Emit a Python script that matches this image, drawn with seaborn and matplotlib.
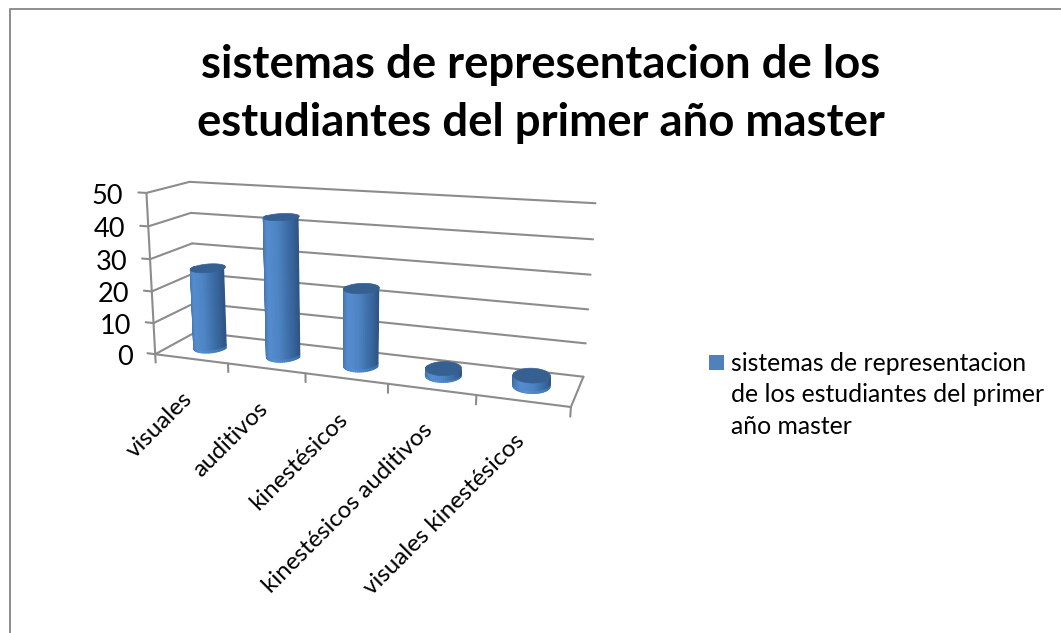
import numpy as np
import pandas as pd
import seaborn as sns
import matplotlib.pyplot as plt
from matplotlib.collections import PolyCollection
from matplotlib.patches import Rectangle

titulo = 'sistemas de representacion de los\nestudiantes del primer año master'
leyenda = 'sistemas de representacion\nde los estudiantes del primer\naño master'
categorias = ['visuales', 'auditivos', 'kinestésicos', 'kinestésicos auditivos', 'visuales kinestésicos']
valores = [25.5, 43, 23.5, 2, 3]
marcas_y = [0, 10, 20, 30, 40, 50]

sns.set_theme(style='white')
plt.rcParams['font.family'] = ['Lato', 'DejaVu Sans']

# camara: (categoria, fondo, valor) -> pixel, calibrada con las esquinas del grafico 3D
mundo = np.array([[0, 0, 0], [0, 0, 50], [0, 1, 0], [0, 1, 50], [5, 1, 0], [5, 1, 50], [5, 0, 0],
                  [1, 0, 0], [2, 0, 0], [3, 0, 0], [4, 0, 0],
                  [0, 0, 10], [0, 0, 20], [0, 0, 30], [0, 0, 40],
                  [0, 1, 10], [0, 1, 20], [0, 1, 30], [0, 1, 40],
                  [5, 1, 10], [5, 1, 20], [5, 1, 30], [5, 1, 40]], dtype=float)
pixel = np.array([[156, 353], [145, 193], [195, 333], [191, 182], [583, 377], [595, 203], [571, 407],
                  [229, 363], [306, 373], [388, 384], [476, 396],
                  [153, 323], [152, 292], [150, 259], [148, 227],
                  [194, 303], [193, 273], [193, 243], [191, 213],
                  [586, 343], [588, 309], [591, 275], [593, 239]], dtype=float)
filas = []
for (a, b, c), (u, v) in zip(mundo, pixel):
    filas.append([a, b, c, 1, 0, 0, 0, 0, -u * a, -u * b, -u * c, -u])
    filas.append([0, 0, 0, 0, a, b, c, 1, -v * a, -v * b, -v * c, -v])
P = np.linalg.svd(np.array(filas))[2][-1].reshape(3, 4)


def proyectar(x, y, z):
    h = P @ np.vstack([x, y, z, np.ones_like(np.asarray(x, dtype=float))])
    return h[0] / h[2], h[1] / h[2]


def uno(x, y, z):
    a, b = proyectar(np.array([x], dtype=float), np.array([y], dtype=float), np.array([z], dtype=float))
    return a[0], b[0]


fig, ax = plt.subplots(figsize=(10.61, 6.33), dpi=100)
ax.set_position([0, 0, 1, 1])

# lineas de rejilla, piso y marcas
lineas = []


def agrega(id_linea, p0, p1):
    a = uno(*p0)
    b = uno(*p1)
    lineas.append({'id': id_linea, 'px': a[0], 'py': a[1]})
    lineas.append({'id': id_linea, 'px': b[0], 'py': b[1]})


n = 0
for z in marcas_y:
    agrega(n, (-0.11, 0, z), (0, 0, z))
    agrega(n + 1, (0, 0, z), (0, 1, z))
    agrega(n + 2, (0, 1, z), (5, 1, z))
    n += 3
agrega(n, (0, 0, 0), (0, 0, 50))
agrega(n + 1, (0, 0, 0), (5, 0, 0))
agrega(n + 2, (5, 0, 0), (5, 1, 0))
n += 3
for i in range(6):
    agrega(n, (i, 0, 0), (i, 0, -2.7))
    n += 1
df_lineas = pd.DataFrame(lineas)
sns.lineplot(data=df_lineas, x='px', y='py', units='id', estimator=None, sort=False,
             color='#8c8c8c', linewidth=1.5, legend=False, ax=ax)

# cilindros
radio_x = 0.2
radio_y = 0.25
tiras = 30
tono = sns.blend_palette(['#2f5b90', '#4274ae', '#558dcf', '#4d84c4', '#3a6aa3', '#2f5686'], n_colors=tiras)
tono_base = sns.blend_palette(['#3a6ea9', '#5490d4', '#3a6ea9'], n_colors=tiras)
angulos = np.linspace(np.pi - 0.1, 2 * np.pi + 0.1, tiras + 1)
for i, valor in enumerate(valores):
    cx = i + 0.5
    ax_x = cx + radio_x * np.cos(angulos)
    ax_y = 0.5 + radio_y * np.sin(angulos)
    aro = min(1.0, valor * 0.3)
    bx0, by0 = proyectar(ax_x, ax_y, np.zeros(tiras + 1))
    mx0, my0 = proyectar(ax_x, ax_y, np.full(tiras + 1, aro))
    tx0, ty0 = proyectar(ax_x, ax_y, np.full(tiras + 1, float(valor)))
    cuerpo = [[(mx0[k], my0[k]), (mx0[k + 1], my0[k + 1]), (tx0[k + 1], ty0[k + 1]), (tx0[k], ty0[k])] for k in range(tiras)]
    base = [[(bx0[k], by0[k]), (bx0[k + 1], by0[k + 1]), (mx0[k + 1], my0[k + 1]), (mx0[k], my0[k])] for k in range(tiras)]
    ax.add_collection(PolyCollection(base, facecolors=tono_base, edgecolors='face', linewidths=0.9, zorder=4))
    ax.add_collection(PolyCollection(cuerpo, facecolors=tono, edgecolors='face', linewidths=0.9, zorder=5))
    vuelta = np.linspace(0, 2 * np.pi, 60)
    ex, ey = proyectar(cx + radio_x * np.cos(vuelta), 0.5 + radio_y * np.sin(vuelta), np.full(60, float(valor)))
    ax.fill(ex, ey, color='#376092', lw=0.5, zorder=6)

# etiquetas
for z in marcas_y:
    a, b = uno(-0.11, 0, z)
    ax.text(a - 15, b + 4, str(z), ha='right', va='center', fontsize=19.5, color='black')

for i, cat in enumerate(categorias):
    a, b = uno(i + 0.5, 0, 0)
    ax.text(a - 2, b + 37, cat, rotation=45, rotation_mode='anchor', ha='right', va='center', fontsize=17.4, color='black')

ax.text(541, 94, titulo, ha='center', va='center', fontsize=32.8, fontweight='bold', color='black', linespacing=1.46)
ax.add_patch(Rectangle((709, 355), 15, 15, facecolor='#4f81bd', edgecolor='none'))
ax.text(731, 395, leyenda, ha='left', va='center', fontsize=17.8, color='black', linespacing=1.45)

# marco del grafico
ax.plot([10, 10, 1061], [633, 9, 9], color='#868686', linewidth=1.3)

ax.set_xlim(0, 1061)
ax.set_ylim(633, 0)
ax.axis('off')
fig.savefig('out.png', dpi=100)
